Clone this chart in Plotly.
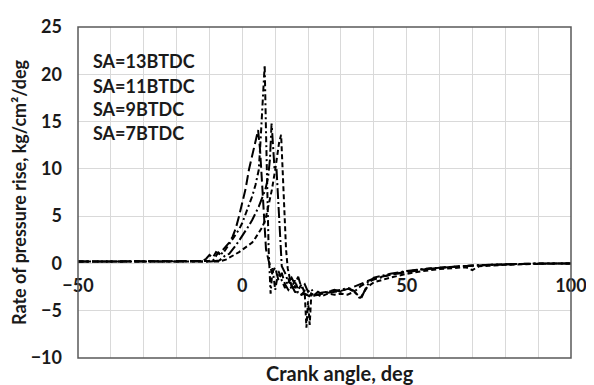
import plotly.graph_objects as go

# ---- data ----
series_names = ["SA=13BTDC", "SA=11BTDC", "SA=9BTDC", "SA=7BTDC"]

x_13 = [-50, -40, -30, -20, -14, -12, -11, -10, -9, -8, -7, -6, -5, -4, -3, -2, -1, 0,
        1, 2, 3, 4, 4.8, 5.4, 6, 6.6, 7.2, 8,
        9, 10, 11, 12, 13, 14, 15, 16, 17, 18, 19, 20, 21, 22,
        24, 26, 28, 30, 33, 36, 40,
        45, 50, 55, 60, 65, 70, 75, 80, 85, 90, 95, 100]
y_13 = [0.2, 0.2, 0.2, 0.2, 0.2, 0.25, 0.5, 0.9, 0.6, 1.2, 1.0, 1.4, 1.8, 2.2, 2.8, 3.7, 5.0, 6.3,
        7.9, 9.9, 11.5, 13.0, 14.1, 12.0, 8.5, 4.5, 1.5, 0.3,
        -1.0, -0.4, -1.8, -1.0, -2.2, -2.8, -2.3, -3.0, -3.1, -3.3, -3.2, -3.4, -3.5, -3.4,
        -3.2, -3.1, -3.0, -2.9, -2.6, -2.2, -1.6,
        -1.2, -0.9, -0.65, -0.45, -0.35, -0.2, -0.15, -0.1, -0.05, 0, 0, 0]

x_11 = [-50, -40, -30, -20, -12, -9, -8, -7, -6, -5, -4, -3, -2, -1, 0,
        1, 2, 3, 4, 5, 5.6, 6.2, 6.8, 7.2, 7.6, 8, 8.6, 9.2,
        10, 11, 12, 13, 14, 15, 16, 17, 18, 19, 20, 21, 22,
        24, 26, 28, 30, 32, 34, 36, 38, 40,
        45, 50, 55, 60, 65, 70, 75, 80, 90, 100]
y_11 = [0.2, 0.2, 0.2, 0.2, 0.2, 0.25, 0.8, 1.3, 1.0, 1.5, 2.0, 2.5, 3.0, 3.6, 4.3,
        5.2, 6.1, 7.1, 8.3, 9.9, 13.3, 17.0, 21.0, 14.0, 6.0, 1.5, -3.2, -0.5,
        -2.8, -0.8, -1.8, -2.6, -1.6, -2.8, -2.4, -3.1, -3.3, -2.9, -3.6, -3.2, -3.4,
        -3.1, -3.0, -2.9, -2.8, -2.6, -3.0, -2.4, -2.0, -1.7,
        -1.2, -0.85, -0.6, -0.45, -0.32, -0.22, -0.15, -0.1, 0, 0]

x_9 = [-50, -40, -30, -20, -10, -7, -6, -5, -4, -3, -2, -1, 0,
       1, 2, 3, 4, 5, 6, 7, 7.8, 8.4, 8.9, 9.3, 9.8, 10.4, 11, 11.5, 12,
       13, 14, 15, 16, 17, 18, 19, 20, 21, 22, 23, 24,
       26, 28, 30, 32, 34, 36, 38, 40,
       45, 50, 55, 60, 65, 70, 75, 80, 90, 100]
y_9 = [0.2, 0.2, 0.2, 0.2, 0.2, 0.3, 0.6, 0.9, 1.0, 1.4, 1.9, 2.4, 2.9,
       3.4, 4.0, 4.6, 5.3, 6.0, 6.9, 7.8, 9.0, 11.0, 14.8, 12.5, 10.0, 10.0, 6.0, 2.0, -0.3,
       -1.0, -2.0, -1.5, -2.2, -1.4, -2.6, -2.2, -3.0, -2.7, -3.3, -3.0, -3.2,
       -3.0, -2.8, -3.0, -2.6, -2.9, -3.8, -2.3, -1.5,
       -1.1, -0.8, -0.6, -0.45, -0.32, -0.22, -0.15, -0.1, 0, 0]

x_7 = [-50, -40, -30, -20, -10, -7, -5, -3, -1,
       1, 3, 4, 5, 6, 7, 8, 9, 10,
       10.6, 11.2, 11.8, 12.3, 12.8, 13.3, 13.8, 14.3,
       15, 16, 17, 18, 19, 19.5, 20, 20.5, 21, 22, 23, 24,
       26, 28, 30, 32, 34, 36, 38, 40, 42,
       45, 50, 55, 60, 65, 68, 70, 72, 75, 80, 90, 100]
y_7 = [0.2, 0.2, 0.2, 0.2, 0.2, 0.2, 0.4, 0.8, 1.2,
       1.7, 2.2, 2.7, 3.2, 3.8, 4.6, 6.1, 7.8, 9.9,
       11.5, 12.8, 13.6, 10.0, 5.0, 1.5, -0.5, -1.5,
       -2.5, -1.8, -2.8, -2.2, -3.2, -6.8, -4.0, -6.5, -3.2, -3.4, -3.3, -3.5,
       -3.2, -3.3, -3.2, -3.3, -3.0, -3.6, -2.5, -2.0, -1.8,
       -1.5, -1.1, -0.8, -0.6, -0.45, -0.4, -0.7, -0.3, -0.25, -0.15, -0.05, 0]

x_range = [-50, 100]
y_range = [-10, 25]
x_title = "Crank angle, deg"
y_title = "Rate of pressure rise, kg/cm²/deg"

# ---- styling ----
FONT = "Lato"
dashes = ["10px,4px", "6px,3px,2px,3px", "11px,3px,2px,3px", "5px,3px"]
xs = [x_13, x_11, x_9, x_7]
ys = [y_13, y_11, y_9, y_7]

fig = go.Figure()
for name, x, y, d in zip(series_names, xs, ys, dashes):
    fig.add_trace(go.Scatter(x=x, y=y, mode="lines", name=name, showlegend=False,
                             line=dict(color="black", width=2, dash=d)))

grid = "#d9d9d9"
# the page body adds an 8px offset, so the figure is 8px smaller than the window
fig.update_layout(
    width=586, height=377,
    margin=dict(l=70, r=21, t=7, b=27),
    paper_bgcolor="white", plot_bgcolor="white",
    font=dict(family=FONT, size=15, color="#1a1a1a"),
    xaxis=dict(range=x_range, tick0=-50, dtick=50, showgrid=True, gridcolor=grid, gridwidth=1,
               minor=dict(dtick=10, showgrid=True, gridcolor=grid, gridwidth=1),
               anchor="free", position=(0 - y_range[0]) / (y_range[1] - y_range[0]),
               showline=False, zeroline=False, ticks="", ticklabeloverflow="allow",
               tickfont=dict(family=FONT, size=18, weight="bold"), ticklabelstandoff=10),
    yaxis=dict(range=y_range, dtick=5, showgrid=True, gridcolor=grid, gridwidth=1,
               showline=False, zeroline=False, ticks="", ticklabeloverflow="allow",
               tickfont=dict(family=FONT, size=18, weight="bold"), ticklabelstandoff=15,
               title=dict(text=y_title, font=dict(family=FONT, size=18, weight="bold"), standoff=3)),
)

# plot frame
fig.add_shape(type="rect", xref="paper", yref="paper", x0=0, y0=0, x1=1, y1=1,
              line=dict(color="#595959", width=1.5), layer="above")

# x axis title (at the bottom, below the frame)
fig.add_annotation(text=x_title, xref="paper", yref="paper", x=0.531, y=-0.044,
                   xanchor="center", yanchor="middle", showarrow=False,
                   font=dict(family=FONT, size=20, weight="bold"))

# series labels (legend text)
legend_y = [0.896, 0.823, 0.752, 0.681]
for name, ly in zip(series_names, legend_y):
    fig.add_annotation(text=name, xref="paper", yref="paper", x=0.026, y=ly,
                       xanchor="left", yanchor="middle", showarrow=False,
                       font=dict(family=FONT, size=18, weight="bold"))

fig.write_html("out.html")
